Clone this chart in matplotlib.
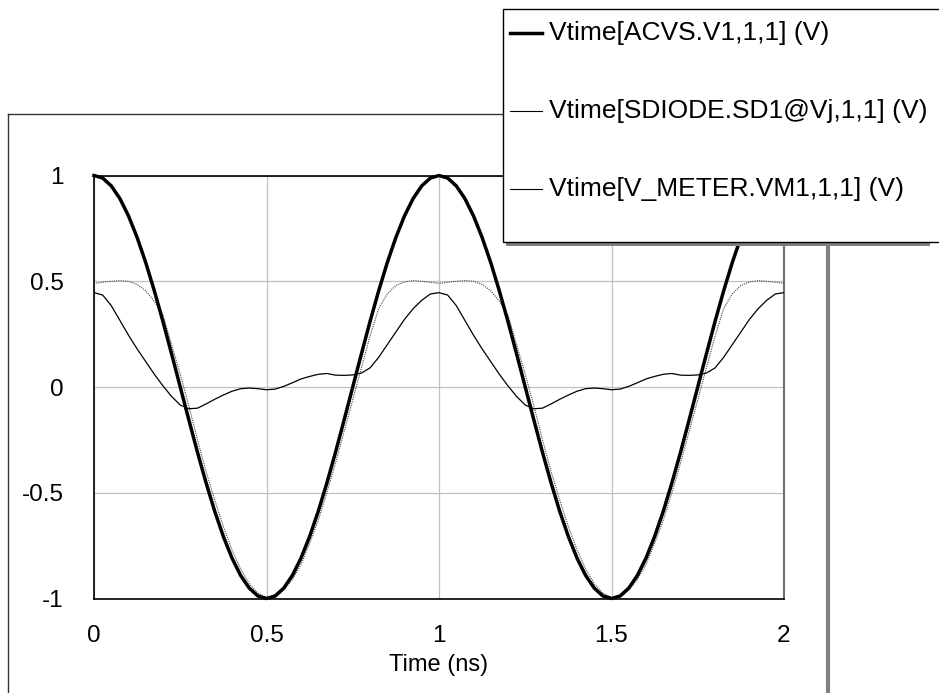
import matplotlib
matplotlib.use("Agg")
import matplotlib.pyplot as plt
from matplotlib.lines import Line2D
from matplotlib.patches import Rectangle
import numpy as np

plt.rcParams['font.family'] = ['Liberation Sans', 'DejaVu Sans']

# sample times (ns), one reading every 0.025 ns
time_ns = np.round(np.arange(81) * 0.025, 3)

# Vtime[ACVS.V1,1,1] (V)  - thick line
v_acvs = [1.000, 0.988, 0.951, 0.891, 0.809, 0.707, 0.588, 0.454, 0.309, 0.156,
          0.000, -0.156, -0.309, -0.454, -0.588, -0.707, -0.809, -0.891, -0.951, -0.988,
          -1.000, -0.988, -0.951, -0.891, -0.809, -0.707, -0.588, -0.454, -0.309, -0.156,
          0.000, 0.156, 0.309, 0.454, 0.588, 0.707, 0.809, 0.891, 0.951, 0.988,
          1.000, 0.988, 0.951, 0.891, 0.809, 0.707, 0.588, 0.454, 0.309, 0.156,
          0.000, -0.156, -0.309, -0.454, -0.588, -0.707, -0.809, -0.891, -0.951, -0.988,
          -1.000, -0.988, -0.951, -0.891, -0.809, -0.707, -0.588, -0.454, -0.309, -0.156,
          0.000, 0.156, 0.309, 0.454, 0.588, 0.707, 0.809, 0.891, 0.951, 0.988,
          1.000]

# Vtime[SDIODE.SD1@Vj,1,1] (V)  - dotted line
v_diode = [0.490, 0.495, 0.500, 0.503, 0.500, 0.485, 0.455, 0.405, 0.340, 0.200,
           0.060, -0.090, -0.250, -0.400, -0.535, -0.660, -0.770, -0.860, -0.930, -0.975,
           -0.995, -0.995, -0.960, -0.910, -0.840, -0.740, -0.630, -0.500, -0.360, -0.210,
           -0.060, 0.090, 0.240, 0.370, 0.440, 0.480, 0.497, 0.503, 0.500, 0.495,
           0.490, 0.495, 0.500, 0.503, 0.500, 0.485, 0.455, 0.405, 0.340, 0.200,
           0.060, -0.090, -0.250, -0.400, -0.535, -0.660, -0.770, -0.860, -0.930, -0.975,
           -0.995, -0.995, -0.960, -0.910, -0.840, -0.740, -0.630, -0.500, -0.360, -0.210,
           -0.060, 0.090, 0.240, 0.370, 0.440, 0.480, 0.497, 0.503, 0.500, 0.495,
           0.490]

# Vtime[V_METER.VM1,1,1] (V)  - thin line
v_meter = [0.446, 0.435, 0.385, 0.315, 0.245, 0.180, 0.120, 0.060, 0.005, -0.045,
           -0.085, -0.103, -0.100, -0.080, -0.058, -0.038, -0.020, -0.008, -0.005, -0.008,
           -0.013, -0.010, 0.003, 0.020, 0.038, 0.050, 0.060, 0.064, 0.056, 0.055,
           0.057, 0.066, 0.090, 0.140, 0.200, 0.260, 0.320, 0.370, 0.410, 0.440,
           0.446, 0.435, 0.385, 0.315, 0.245, 0.180, 0.120, 0.060, 0.005, -0.045,
           -0.085, -0.103, -0.100, -0.080, -0.058, -0.038, -0.020, -0.008, -0.005, -0.008,
           -0.013, -0.010, 0.003, 0.020, 0.038, 0.050, 0.060, 0.064, 0.056, 0.055,
           0.057, 0.066, 0.090, 0.140, 0.200, 0.260, 0.320, 0.370, 0.410, 0.440,
           0.446]

legend_labels = ['Vtime[ACVS.V1,1,1] (V)', 'Vtime[SDIODE.SD1@Vj,1,1] (V)',
                 'Vtime[V_METER.VM1,1,1] (V)']
x_ticks = [0, 0.5, 1, 1.5, 2]
x_ticklabels = ['0', '0.5', '1', '1.5', '2']
y_ticks = [-1, -0.5, 0, 0.5, 1]
y_ticklabels = ['-1', '-0.5', '0', '0.5', '1']

W, H = 939, 693


def fx(px):
    return px / W


def fy(py):
    return 1 - py / H


fig = plt.figure(figsize=(W / 100, H / 100), dpi=100)
ax = fig.add_axes([fx(94), fy(598.5), (784 - 94) / W, (598.5 - 175.5) / H])

ax.plot(time_ns, v_diode, color='#444444', lw=0.8, ls=(0, (1, 1)), zorder=3)
ax.plot(time_ns, v_meter, color='black', lw=0.9, zorder=3)
ax.plot(time_ns, v_acvs, color='black', lw=2.5, zorder=4, clip_on=False)

ax.set_xlim(0, 2)
ax.set_ylim(-1, 1)
ax.set_xticks(x_ticks)
ax.set_xticklabels(x_ticklabels)
ax.set_yticks(y_ticks)
ax.set_yticklabels(y_ticklabels)
ax.tick_params(axis='both', length=0, labelsize=17.5)
ax.tick_params(axis='x', pad=19)
ax.tick_params(axis='y', pad=22)
ax.grid(True, color='#c0c0c0', lw=0.9)
ax.set_axisbelow(True)
for s in ['top', 'left', 'bottom']:
    ax.spines[s].set_color('black')
    ax.spines[s].set_linewidth(1.2)
ax.spines['right'].set_color('#707070')
ax.spines['right'].set_linewidth(1.5)
ax.set_xlabel('Time (ns)', fontsize=17, labelpad=5)

# outer chart frame
fig.add_artist(Line2D([fx(8), fx(8)], [fy(114), fy(H)], color='#333333', lw=1.0))
fig.add_artist(Line2D([fx(8), fx(828)], [fy(114), fy(114)], color='#333333', lw=1.0))
fig.add_artist(Line2D([fx(828), fx(828)], [fy(116), fy(H)], color='#808080', lw=3.0))

# legend box
fig.add_artist(Rectangle((fx(506), fy(246)), fx(930) - fx(506), fy(242) - fy(246),
                         transform=fig.transFigure, facecolor='#808080',
                         edgecolor='none', zorder=5))
fig.add_artist(Rectangle((fx(503), fy(242)), fx(960) - fx(503), fy(9) - fy(242),
                         transform=fig.transFigure, facecolor='white',
                         edgecolor='black', lw=1.0, zorder=6))
entry_y = [33, 111, 189]
entry_lw = [2.5, 0.8, 0.8]
for lab, py, lw in zip(legend_labels, entry_y, entry_lw):
    fig.add_artist(Line2D([fx(510), fx(542)], [fy(py), fy(py)], color='black',
                          lw=lw, zorder=7))
    fig.text(fx(549), fy(py), lab, fontsize=19, va='center', ha='left', zorder=7)

fig.savefig('out.png', dpi=100)
